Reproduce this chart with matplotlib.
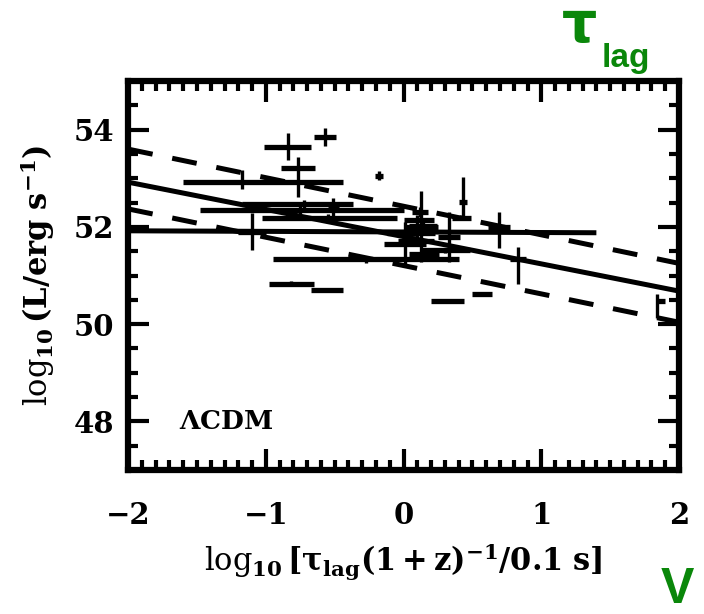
import matplotlib
matplotlib.use("Agg")
import matplotlib.pyplot as plt
import numpy as np
from matplotlib.ticker import MultipleLocator

plt.rcParams["mathtext.fontset"] = "dejavuserif"

# Bursts: log lag, log luminosity and asymmetric errors
lag = [-0.57, -0.84, -0.77, -0.18, -1.17, -0.75, -0.55, -1.10, -0.27, -0.82,
       -0.55, 0.13, 0.01, 0.33, 0.43, 0.42, 0.69, 0.83, 1.84, 0.32,
       0.57, 0.12, 0.10, 0.30, -0.72, -0.51, 0.14, 0.10, 0.16, 0.08]
lum = [53.85, 53.65, 53.22, 53.05, 52.92, 52.35, 52.19, 51.90, 51.33, 50.83,
       50.70, 52.00, 51.65, 51.80, 52.52, 52.19, 52.00, 51.35, 50.48, 50.48,
       50.63, 52.30, 52.15, 51.52, 52.47, 52.40, 52.02, 51.72, 51.45, 51.88]
lag_lo = [0.08, 0.17, 0.12, 0.03, 0.43, 0.73, 0.48, 0.10, 0.68, 0.16,
          0.12, 0.12, 0.15, 0.08, 0.03, 0.07, 0.08, 0.06, 0.01, 0.12,
          0.07, 0.06, 0.10, 0.18, 0.45, 0.04, 0.10, 0.14, 0.12, 0.20]
lag_hi = [0.08, 0.17, 0.13, 0.03, 0.73, 0.75, 0.50, 0.10, 0.67, 0.17,
          0.11, 0.12, 0.15, 0.08, 0.03, 0.07, 0.08, 0.06, 0.06, 0.12,
          0.07, 0.06, 0.12, 0.18, 0.35, 0.04, 0.10, 0.12, 0.10, 0.15]
lum_lo = [0.18, 0.28, 0.60, 0.09, 0.15, 0.08, 0.08, 0.37, 0.08, 0.05,
          0.04, 0.73, 0.45, 0.53, 0.37, 0.05, 0.44, 0.52, 0.36, 0.04,
          0.04, 0.10, 0.10, 0.05, 0.08, 0.20, 0.15, 0.12, 0.10, 0.06]
lum_hi = [0.18, 0.28, 0.22, 0.09, 0.25, 0.08, 0.08, 0.38, 0.08, 0.05,
          0.04, 0.73, 0.45, 0.51, 0.50, 0.05, 0.31, 0.23, 0.14, 0.04,
          0.04, 0.10, 0.10, 0.05, 0.08, 0.20, 0.15, 0.12, 0.10, 0.06]

# Best fit with 1-sigma envelope, and the flat reference line
fit_x = [-2.0, 2.0]
fit_mid = [52.92, 50.68]
fit_up = [53.60, 51.25]
fit_dn = [52.37, 50.04]
flat_x = [-2.0, 1.40]
flat_y = [51.92, 51.88]

xticks = [-2, -1, 0, 1, 2]
xticklabels = ["\u22122", "\u22121", "0", "1", "2"]
yticks = [48, 50, 52, 54]

fig = plt.figure(figsize=(7.04, 6.14), dpi=100)
ax = fig.add_axes([0.182, 0.2345, 0.7825, 0.6335])

x = np.array(lag); y = np.array(lum)
ax.hlines(y, x - np.array(lag_lo), x + np.array(lag_hi), color="black", lw=3.8)
ax.vlines(x, y - np.array(lum_lo), y + np.array(lum_hi), color="black", lw=2.4)

ax.plot(fit_x, fit_mid, color="black", lw=3.6, solid_capstyle="butt")
ax.plot(fit_x, fit_up, color="black", lw=3.6, dashes=(5, 4))
ax.plot(fit_x, fit_dn, color="black", lw=3.6, dashes=(5, 4))
ax.plot(flat_x, flat_y, color="black", lw=3.6, solid_capstyle="butt")

ax.set_xlim(-2, 2)
ax.set_ylim(47, 55)
ax.set_xticks(xticks)
ax.set_xticklabels(xticklabels)
ax.set_yticks(yticks)
ax.xaxis.set_minor_locator(MultipleLocator(0.1))
ax.yaxis.set_minor_locator(MultipleLocator(0.5))
ax.tick_params(which="both", direction="in", top=True, right=True, width=3, color="black")
ax.tick_params(which="major", length=15)
ax.tick_params(which="minor", length=7)
ax.tick_params(axis="x", which="major", pad=22)
ax.tick_params(axis="y", which="major", pad=10)
for lab in ax.get_xticklabels() + ax.get_yticklabels():
    lab.set_fontweight("bold")
    lab.set_family("DejaVu Serif")
    lab.set_fontsize(21)
for s in ax.spines.values():
    s.set_linewidth(4.5)

ax.set_xlabel(r"$\mathbf{\log_{10}[\tau_{lag}(1+z)^{-1}/0.1\ s]}$", fontsize=22, labelpad=9)
ax.set_ylabel(r"$\mathbf{\log_{10}(L/erg\ s^{-1})}$", fontsize=22, labelpad=12)
ax.text(-1.63, 47.98, r"$\mathbf{\Lambda CDM}$", fontsize=19, va="center", ha="left")

green = "#0a870a"
fig.text(580 / 704, 1 - 27 / 614, "\u03c4", color=green, fontsize=40, ha="center", va="center",
         fontweight="bold", family="DejaVu Sans")
fig.text(602 / 704, 1 - 58 / 614, "lag", color=green, fontsize=24, ha="left", va="center",
         fontweight="bold", family="Liberation Sans")
fig.text(661 / 704, 1 - 613 / 614, "V", color=green, fontsize=36, ha="left", va="bottom",
         fontweight="bold", family="Liberation Sans")

fig.savefig("out.png", dpi=100)
